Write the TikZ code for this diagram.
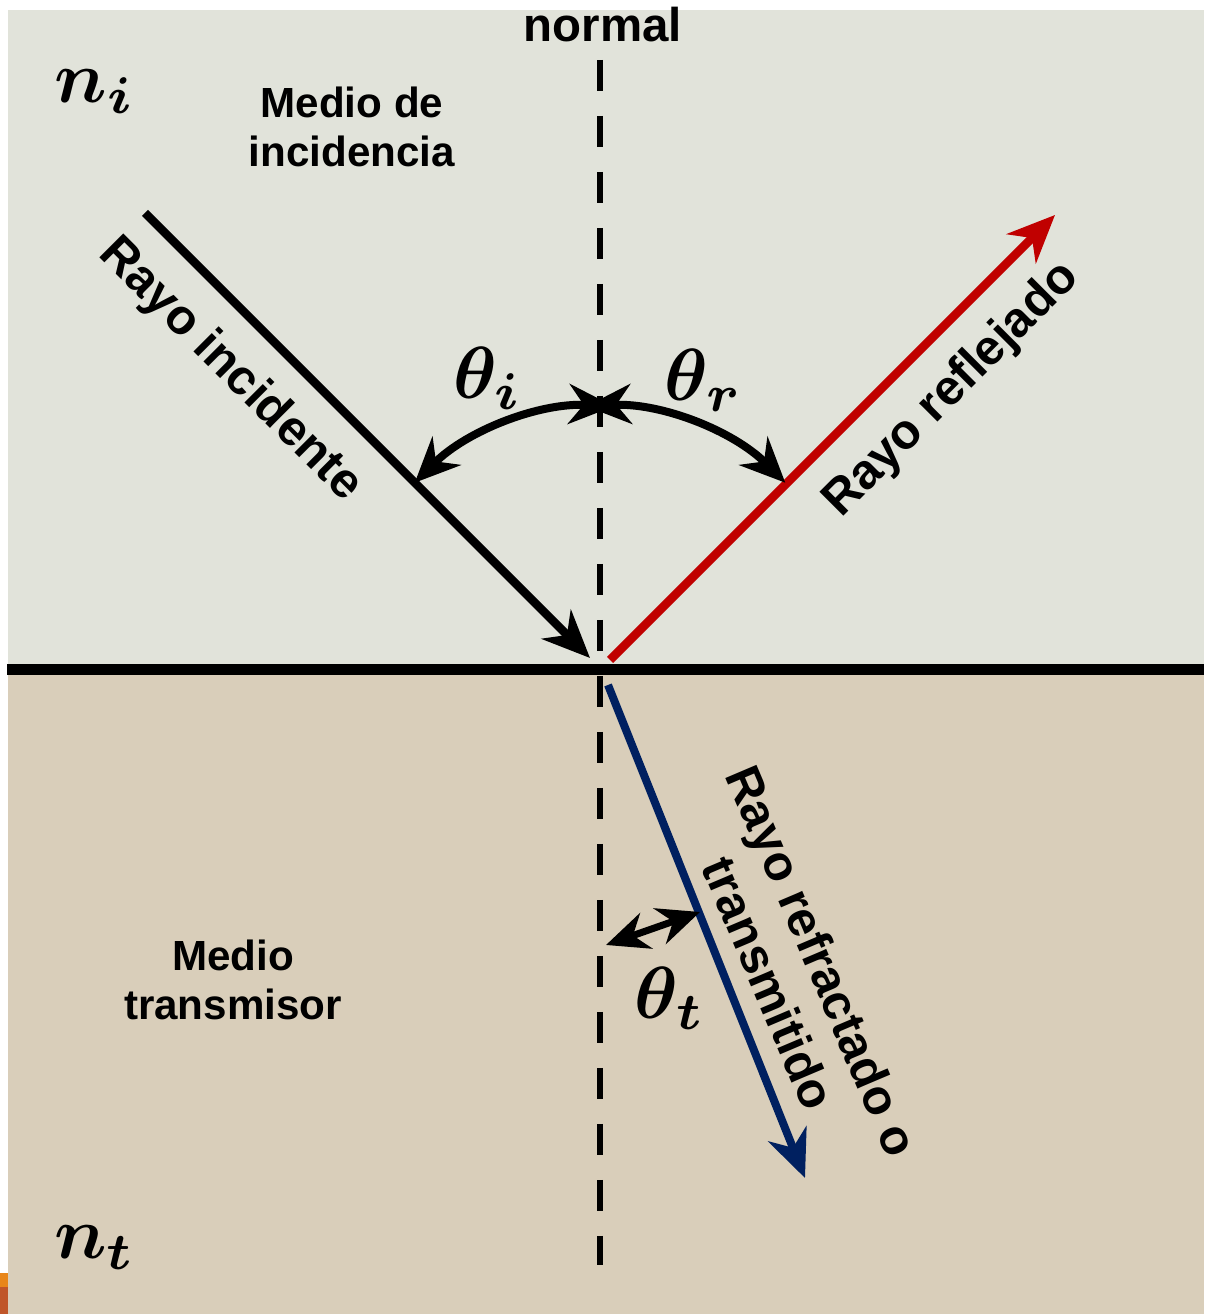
\documentclass[tikz,border=0pt]{standalone}
\usepackage{fontspec}
\setmainfont{Liberation Sans}
\usepackage{bm}
\usetikzlibrary{arrows.meta}
\definecolor{mediumtop}{HTML}{E1E3DA}
\definecolor{mediumbot}{HTML}{D9CEBA}
\definecolor{rayred}{HTML}{C00000}
\definecolor{rayblue}{HTML}{002060}
\definecolor{tabone}{HTML}{E8861A}
\definecolor{tabtwo}{HTML}{C0562A}

\begin{document}
\begin{tikzpicture}[x=0.02cm, y=0.02cm,
  every node/.style={font=\bfseries\fontsize{24}{28}\selectfont, align=center, inner sep=0pt},
  raylabel/.style={font=\bfseries\fontsize{28}{32}\selectfont},
  sym/.style={font=\normalsize, scale=4.2},
  ray/.style={line width=0.17cm, -{Stealth[length=0.95cm, width=0.82cm, inset=0.3cm]}},
  angarc/.style={line width=0.16cm,
    {Stealth[length=0.9cm, width=0.8cm, inset=0.3cm]}-{Stealth[length=0.9cm, width=0.8cm, inset=0.3cm]}},
  smallarc/.style={line width=0.14cm,
    {Stealth[length=0.85cm, width=0.75cm, inset=0.28cm]}-{Stealth[length=0.85cm, width=0.75cm, inset=0.28cm]}}]
  \useasboundingbox (0,0) rectangle (1204,1314);
  % the two media
  \fill[mediumtop] (8,644) rectangle (1204,1304);
  \fill[mediumbot] (8,0) rectangle (1204,644);
  \fill[tabone] (0,27) rectangle (8,41);
  \fill[tabtwo] (0,0) rectangle (8,27);
  \coordinate (sl) at (7,644);
  \coordinate (sr) at (1204,644);
  \draw[line width=0.22cm] (sl) -- (sr);
  % normal
  \coordinate (ntop) at (600,1254);
  \coordinate (nbot) at (600,49);
  \draw[line width=0.12cm, dash pattern=on 0.62cm off 0.5cm] (ntop) -- (nbot);
  \node[font=\bfseries\fontsize{27}{30}\selectfont] (nlabel) at (603,1289) {normal};
  % rays
  \coordinate (O) at (600,646);
  \coordinate (istart) at (145,1101);
  \coordinate (iend) at (590,656);
  \coordinate (rstart) at (610,654);
  \coordinate (rend) at (1055,1099);
  \coordinate (tstart) at (608,629);
  \coordinate (tend) at (805,136);
  \draw[ray] (istart) -- (iend);
  \draw[ray, rayred] (rstart) -- (rend);
  \draw[ray, rayblue, line width=0.16cm] (tstart) -- (tend);
  % angles
  \draw[angarc] ([shift={(87:262)}]O) arc[start angle=87, end angle=135, radius=262];
  \draw[angarc] ([shift={(93:262)}]O) arc[start angle=93, end angle=45, radius=262];
  \coordinate (ta) at (606,369);
  \coordinate (tb) at (700,402);
  \draw[smallarc] (ta) -- (tb);
  % labels
  \node[sym] (ni) at (95,1222) {$\bm{n_i}$};
  \node (medioinc) at (352,1187) {Medio de\\incidencia};
  \node[raylabel, rotate=-45] (incl) at (230,944) {Rayo incidente};
  \node[sym] (thi) at (488,936) {$\bm{\theta_i}$};
  \node[sym] (thr) at (704,934) {$\bm{\theta_r}$};
  \node[raylabel, rotate=45] (refl) at (952,924) {Rayo reflejado};
  \node[raylabel, rotate=-67, font=\bfseries\fontsize{28}{33}\selectfont] (tral) at (796,342) {Rayo refractado o\\transmitido};
  \node (mediotra) at (233,334) {Medio\\transmisor};
  \node[sym] (tht) at (670,316) {$\bm{\theta_t}$};
  \node[sym] (nt) at (95,66) {$\bm{n_t}$};
\end{tikzpicture}
\end{document}
